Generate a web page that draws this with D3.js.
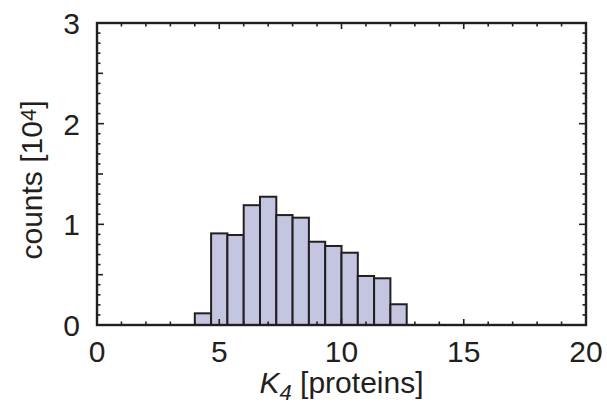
<!DOCTYPE html>
<html>
<head>
<meta charset="utf-8">
<script src="https://cdn.jsdelivr.net/npm/d3@7"></script>
<style>
  body { margin: 0; background: #fff; }
  text { font-family: "Liberation Sans", Arial, sans-serif; fill: #231f20; }
</style>
</head>
<body>
<svg id="chart" width="607" height="406"></svg>
<script>
// histogram bins (left edges, width 2/3) and counts in units of 10^4
const binStart = 4
const binWidth = 2 / 3
const counts = [0.116, 0.91, 0.894, 1.19, 1.274, 1.092, 1.066, 0.827, 0.785, 0.718, 0.487, 0.464, 0.206]
const xTicks = [0, 5, 10, 15, 20]
const yTicks = [0, 1, 2, 3]

const svg = d3.select('#chart')
const m = { left: 97, right: 586, top: 23, bottom: 325 }

const x = d3.scaleLinear().domain([0, 20]).range([m.left, m.right])
const y = d3.scaleLinear().domain([0, 3]).range([m.bottom, m.top])

const bins = counts.map((c, i) => ({ x0: binStart + i * binWidth, x1: binStart + (i + 1) * binWidth, c: c }))

svg.append('g')
  .selectAll('rect')
  .data(bins)
  .enter()
  .append('rect')
    .attr('x', d => x(d.x0))
    .attr('y', d => y(d.c))
    .attr('width', d => x(d.x1) - x(d.x0))
    .attr('height', d => y(0) - y(d.c))
    .attr('fill', '#c4c5e1')
    .attr('stroke', '#231f20')
    .attr('stroke-width', 2)

// inward ticks on all four sides
const ticks = svg.append('g').attr('stroke', '#231f20').attr('stroke-width', 1.6)

d3.range(0, 21, 1).forEach(v => {
  const len = v % 5 === 0 ? 6 : 3.5
  ticks.append('line').attr('x1', x(v)).attr('x2', x(v)).attr('y1', m.bottom).attr('y2', m.bottom - len)
  ticks.append('line').attr('x1', x(v)).attr('x2', x(v)).attr('y1', m.top).attr('y2', m.top + len)
})

d3.range(0, 31, 1).forEach(i => {
  const v = i / 10
  const len = i % 10 === 0 ? 7 : (i % 5 === 0 ? 6 : 3.5)
  ticks.append('line').attr('x1', m.left).attr('x2', m.left + len).attr('y1', y(v)).attr('y2', y(v))
  ticks.append('line').attr('x1', m.right).attr('x2', m.right - len).attr('y1', y(v)).attr('y2', y(v))
})

svg.append('rect')
  .attr('x', m.left).attr('y', m.top)
  .attr('width', m.right - m.left).attr('height', m.bottom - m.top)
  .attr('fill', 'none')
  .attr('stroke', '#231f20')
  .attr('stroke-width', 2.4)

svg.append('g')
  .selectAll('text')
  .data(xTicks)
  .enter()
  .append('text')
    .attr('x', d => x(d))
    .attr('y', 362)
    .attr('text-anchor', 'middle')
    .attr('font-size', 30)
    .text(d => d)

svg.append('g')
  .selectAll('text')
  .data(yTicks)
  .enter()
  .append('text')
    .attr('x', 80)
    .attr('y', d => y(d) + 11)
    .attr('text-anchor', 'end')
    .attr('font-size', 30)
    .text(d => d)

const xl = svg.append('text')
  .attr('x', (m.left + m.right) / 2)
  .attr('y', 393)
  .attr('text-anchor', 'middle')
  .attr('font-size', 30)
xl.append('tspan').attr('font-style', 'italic').text('K')
xl.append('tspan').attr('font-style', 'italic').attr('font-size', 22).attr('dy', 7).text('4')
xl.append('tspan').attr('dy', -7).text(' [proteins]')

const yl = svg.append('text')
  .attr('transform', 'translate(42,180) rotate(-90)')
  .attr('text-anchor', 'middle')
  .attr('font-size', 30)
yl.append('tspan').text('counts [10')
yl.append('tspan').attr('font-size', 22).attr('dy', -6).text('4')
yl.append('tspan').attr('dy', 6).text(']')
</script>
</body>
</html>
